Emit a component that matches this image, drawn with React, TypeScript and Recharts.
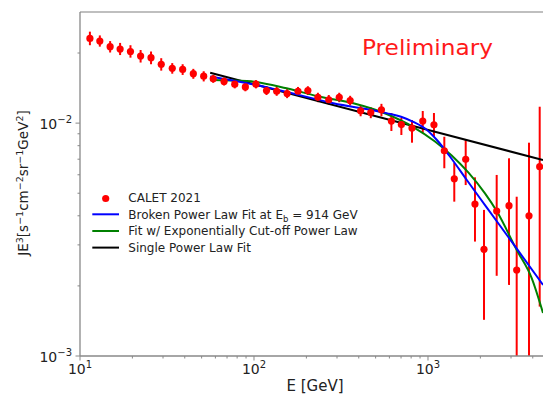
import React from 'react';
import { ComposedChart, Line, Scatter, XAxis, YAxis, ErrorBar, ReferenceLine } from 'recharts';

// CALET 2021 data points
const energy = [11.4, 13.0, 14.9, 17.0, 19.5, 22.3, 25.6, 29.3, 33.9, 38.9, 44.8, 51.4, 58.3, 67.3, 77.5, 89.2, 102.6, 118, 135, 155, 179, 204, 233, 269, 309, 357, 410, 469, 540, 616, 703, 809, 933, 1082, 1241, 1416, 1647, 1862, 2098, 2482, 2921, 3234, 3806, 4385];
const flux = [0.0231, 0.0225, 0.0213, 0.0208, 0.0203, 0.0194, 0.0191, 0.0179, 0.0172, 0.0170, 0.0163, 0.0159, 0.0155, 0.0151, 0.0147, 0.0143, 0.0147, 0.0138, 0.0137, 0.0134, 0.0137, 0.0138, 0.0129, 0.0126, 0.0129, 0.0125, 0.0113, 0.0111, 0.0114, 0.0102, 0.00986, 0.00952, 0.0102, 0.00983, 0.00761, 0.00577, 0.00699, 0.00449, 0.00287, 0.00419, 0.00442, 0.00234, 0.00400, 0.0065];
const fluxLow = [0.0216, 0.0213, 0.0201, 0.0196, 0.0191, 0.0182, 0.0179, 0.0168, 0.0163, 0.0161, 0.0155, 0.0151, 0.0149, 0.0145, 0.0141, 0.0137, 0.0141, 0.0132, 0.0131, 0.0128, 0.0131, 0.0132, 0.0123, 0.0120, 0.0123, 0.0119, 0.0107, 0.0105, 0.0107, 0.00925, 0.00889, 0.00824, 0.00909, 0.00872, 0.0064, 0.0046, 0.00542, 0.0031, 0.00143, 0.00221, 0.00202, 0.001, 0.001, 0.00163];
const fluxHigh = [0.0247, 0.0238, 0.0225, 0.0221, 0.0216, 0.0206, 0.0203, 0.0190, 0.0181, 0.0179, 0.0171, 0.0167, 0.0161, 0.0157, 0.0153, 0.0149, 0.0153, 0.0144, 0.0143, 0.0140, 0.0143, 0.0144, 0.0135, 0.0132, 0.0135, 0.0131, 0.0119, 0.0117, 0.0121, 0.01105, 0.01052, 0.01031, 0.01127, 0.01105, 0.00874, 0.00674, 0.00846, 0.00585, 0.00424, 0.00599, 0.00706, 0.00483, 0.00824, 0.01176];

// Broken power law fit (blue)
const brokenE = [56, 118, 286, 578, 700, 823, 982, 1122, 1337, 1667, 2173, 3237, 4581];
const brokenJ = [0.01584, 0.01427, 0.01218, 0.01104, 0.01065, 0.01012, 0.00936, 0.00848, 0.00719, 0.00571, 0.00435, 0.00289, 0.00202];

// Exponentially cut-off power law fit (green)
const cutoffE = [56, 91, 154, 239, 372, 578, 823, 1097, 1368, 1704, 2126, 2482, 3237, 3945, 4581];
const cutoffJ = [0.01533, 0.01516, 0.01411, 0.01298, 0.01216, 0.01094, 0.00962, 0.00834, 0.00726, 0.00614, 0.00499, 0.00419, 0.00285, 0.00216, 0.00153];

// Single power law fit (black)
const singleE = [56, 1097, 4581];
const singleJ = [0.01646, 0.00919, 0.00694];

const xTicks = [10, 20, 30, 40, 50, 60, 70, 80, 90, 100, 200, 300, 400, 500, 600, 700, 800, 900, 1000, 2000, 3000, 4000];
const yTicks = [0.001, 0.002, 0.003, 0.004, 0.005, 0.006, 0.007, 0.008, 0.009, 0.01, 0.02];
const xDomain = [10, 4581];
const yDomain = [0.001, 0.03];

const legendLabels = ['CALET 2021', 'Broken Power Law Fit at E', 'Fit w/ Exponentially Cut-off Power Law', 'Single Power Law Fit'];

const caletData = energy.map((x, i) => ({ x, y: flux[i], err: [flux[i] - fluxLow[i], fluxHigh[i] - flux[i]] }));
const brokenData = brokenE.map((x, i) => ({ x, y: brokenJ[i] }));
const cutoffData = cutoffE.map((x, i) => ({ x, y: cutoffJ[i] }));
const singleData = singleE.map((x, i) => ({ x, y: singleJ[i] }));

const FONT = 'DejaVu Sans';
const AXIS = '#888';
const TXT = '#222';

const isMajor = (v: number) => Math.abs(Math.log10(v) - Math.round(Math.log10(v))) < 1e-9;

const XTick = (props: any) => {
  const { x, y, payload } = props;
  const v = payload.value;
  const major = isMajor(v);
  const exp = Math.round(Math.log10(v));
  return (
    <g>
      <line x1={x} x2={x} y1={y} y2={y + (major ? 4.5 : 2.5)} stroke={AXIS} strokeWidth={1} />
      {major && (
        <text x={x} y={y + 18} textAnchor="middle" fontSize={14} fontFamily={FONT} fill={TXT}>
          10<tspan dy={-6} fontSize={10}>{exp}</tspan>
        </text>
      )}
    </g>
  );
};

const YTick = (props: any) => {
  const { x, y, payload } = props;
  const v = payload.value;
  const major = isMajor(v);
  const exp = Math.round(Math.log10(v));
  return (
    <g>
      <line x1={x} x2={x - (major ? 4.5 : 2.5)} y1={y} y2={y} stroke={AXIS} strokeWidth={1} />
      {major && (
        <text x={x - 8} y={y + 5.5} textAnchor="end" fontSize={14} fontFamily={FONT} fill={TXT}>
          10<tspan dy={-6} fontSize={10}>{'\u2212' + Math.abs(exp)}</tspan>
        </text>
      )}
    </g>
  );
};

const Dot = (props: any) => {
  const { cx, cy } = props;
  if (cx == null || cy == null) return null;
  return <circle cx={cx} cy={cy} r={3.6} fill="#ff0000" />;
};

export default function App() {
  const W = 543;
  const H = 394;
  const rowY = [202, 218.7, 235.4, 252];
  return (
    <div style={{ position: 'fixed', left: 0, top: 0, width: W, height: H, background: '#fff' }}>
      <ComposedChart width={W} height={H} margin={{ top: 12, right: 0, bottom: 0, left: 0 }}>
        <XAxis
          dataKey="x"
          type="number"
          scale="log"
          domain={xDomain}
          allowDataOverflow
          ticks={xTicks}
          interval={0}
          tick={<XTick />}
          tickLine={false}
          tickSize={0}
          tickMargin={0}
          height={38}
          axisLine={{ stroke: AXIS, strokeWidth: 1.3 }}
        />
        <YAxis
          dataKey="y"
          type="number"
          scale="log"
          domain={yDomain}
          allowDataOverflow
          ticks={yTicks}
          interval={0}
          tick={<YTick />}
          tickLine={false}
          tickSize={0}
          tickMargin={0}
          width={80}
          axisLine={{ stroke: AXIS, strokeWidth: 1.3 }}
        />
        <ReferenceLine y={0.03} stroke="#aaa" strokeWidth={1.3} />
        <Scatter data={caletData} dataKey="y" shape={<Dot />} isAnimationActive={false}>
          <ErrorBar dataKey="err" direction="y" width={0} stroke="#ff0000" strokeWidth={2} isAnimationActive={false} />
        </Scatter>
        <Line data={singleData} dataKey="y" type="linear" stroke="#000000" strokeWidth={2} dot={false} isAnimationActive={false} />
        <Line data={cutoffData} dataKey="y" type="monotone" stroke="#008000" strokeWidth={2} dot={false} isAnimationActive={false} />
        <Line data={brokenData} dataKey="y" type="monotone" stroke="#0000ff" strokeWidth={2} dot={false} isAnimationActive={false} />
      </ComposedChart>
      <svg width={W} height={H} style={{ position: 'absolute', left: 0, top: 0, pointerEvents: 'none' }}>
        <text x={362} y={55} fontSize={22} fontFamily={FONT} fill="#ff1a1a" textLength={131} lengthAdjust="spacingAndGlyphs">
          Preliminary
        </text>
        <text x={315} y={391} textAnchor="middle" fontSize={15} fontFamily={FONT} fill={TXT}>
          E [GeV]
        </text>
        <text transform="translate(28,183) rotate(-90)" textAnchor="middle" fontSize={13.5} fontFamily={FONT} fill={TXT}>
          JE<tspan dy={-5} fontSize={9.5}>3</tspan>
          <tspan dy={5}>[s</tspan>
          <tspan dy={-5} fontSize={9.5}>{'\u22121'}</tspan>
          <tspan dy={5}>cm</tspan>
          <tspan dy={-5} fontSize={9.5}>{'\u22122'}</tspan>
          <tspan dy={5}>sr</tspan>
          <tspan dy={-5} fontSize={9.5}>{'\u22121'}</tspan>
          <tspan dy={5}>GeV</tspan>
          <tspan dy={-5} fontSize={9.5}>2</tspan>
          <tspan dy={5}>]</tspan>
        </text>
        <circle cx={105.7} cy={rowY[0] - 3.5} r={3.6} fill="#ff0000" />
        <line x1={92.3} x2={119} y1={rowY[1] - 4.4} y2={rowY[1] - 4.4} stroke="#0000ff" strokeWidth={2} />
        <line x1={92.3} x2={119} y1={rowY[2] - 4.4} y2={rowY[2] - 4.4} stroke="#008000" strokeWidth={2} />
        <line x1={92.3} x2={119} y1={rowY[3] - 4.4} y2={rowY[3] - 4.4} stroke="#000000" strokeWidth={2} />
        <text x={128.3} y={rowY[0]} fontSize={12} fontFamily={FONT} fill={TXT}>{legendLabels[0]}</text>
        <text x={128.3} y={rowY[1]} fontSize={12} fontFamily={FONT} fill={TXT}>
          {legendLabels[1]}<tspan dy={3} fontSize={8.5}>b</tspan><tspan dy={-3}>{' = 914 GeV'}</tspan>
        </text>
        <text x={128.3} y={rowY[2]} fontSize={12} fontFamily={FONT} fill={TXT}>{legendLabels[2]}</text>
        <text x={128.3} y={rowY[3]} fontSize={12} fontFamily={FONT} fill={TXT}>{legendLabels[3]}</text>
      </svg>
    </div>
  );
}
